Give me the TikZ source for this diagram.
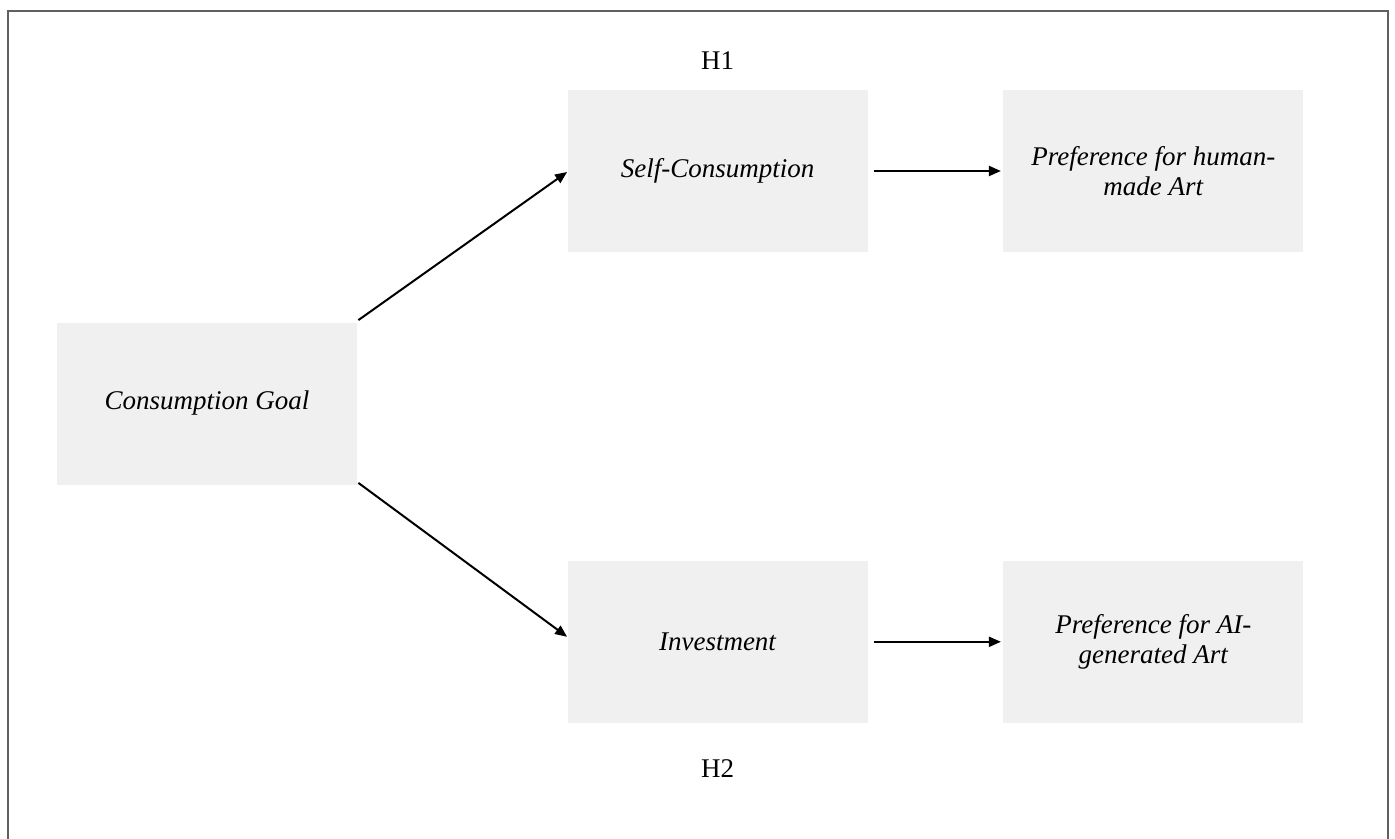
\documentclass[tikz,border=0pt]{standalone}
\usepackage{fontspec}
\setmainfont{Liberation Serif}
\usetikzlibrary{
  arrows.meta,
  positioning,  % relative placement (right=of x)
}
\def\myhdist{67.5pt}
\def\myvdist{154pt}
\tikzset{
  x=0.5pt,
  y=-0.5pt,
  >={Triangle[length=6pt,width=5pt]},
  my box/.style={
    fill=boxgray,
    draw=none,
    minimum width=150pt,
    minimum height=81pt,
    inner sep=0pt,
    align=center,
    font=\fontsize{13.5}{15}\selectfont\itshape
  },
  my label/.style={
    font=\fontsize{13.5}{15}\selectfont,
    inner sep=1pt
  },
  my arrow/.style={
    ->,
    line width=1pt
  },
  frame/.style={
    draw=gray!75!black,
    line width=1pt
  }
}
\definecolor{boxgray}{HTML}{F0F0F0}

\begin{document}
\begin{tikzpicture}
\useasboundingbox (0,0) rectangle (1395,839);
\draw[frame] (8,839) -- (8,11) -- (1388,11) -- (1388,839);
% boxes
\node[my box] (goal)   at (207,403.5)       {Consumption Goal};
\node[my box] (self)   at (717.5,171)       {Self-Consumption};
\node[my box] (human)  [right=\myhdist of self]  {Preference for human-\\made Art};
\node[my box] (invest) [below=\myvdist of self]  {Investment};
\node[my box] (ai)     [right=\myhdist of invest] {Preference for AI-\\generated Art};
% hypothesis labels
\node[my label] (h1) [above=9pt of self]   {H1};
\node[my label] (h2) [below=17pt of invest] {H2};
% paths
\draw[my arrow] ([shift={(1,-2)}]goal.north east) -- ([yshift=-0.5pt]self.west);
\draw[my arrow] ([shift={(1,-2)}]goal.south east) -- ([yshift=2.5pt]invest.west);
\draw[my arrow,shorten <=3pt,shorten >=1pt] (self.east)   -- (human.west);
\draw[my arrow,shorten <=3pt,shorten >=1pt] (invest.east) -- (ai.west);
\end{tikzpicture}
\end{document}
